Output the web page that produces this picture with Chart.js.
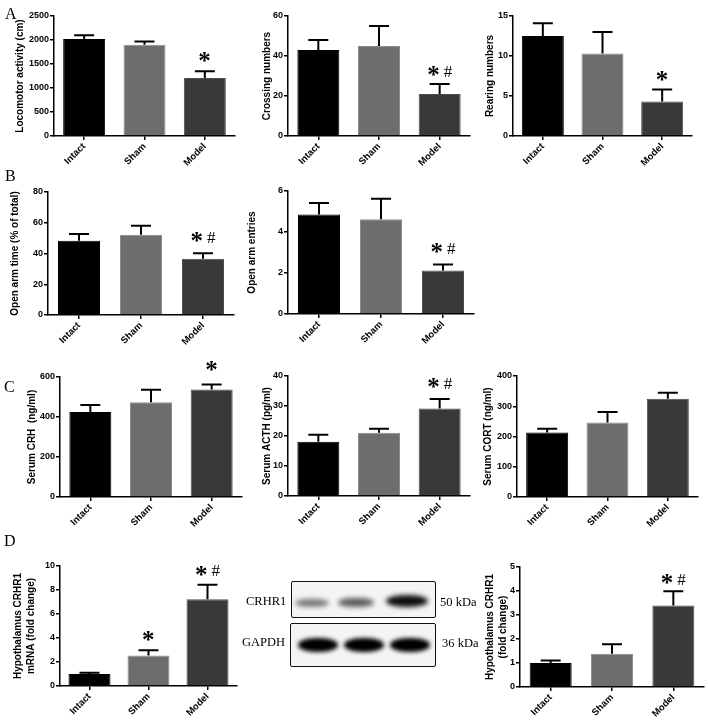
<!DOCTYPE html>
<html><head><meta charset="utf-8">
<script src="https://cdn.jsdelivr.net/npm/chart.js@4/dist/chart.umd.min.js"></script>
<style>
html,body{margin:0;padding:0;background:#fff}
body{width:708px;height:720px;position:relative;overflow:hidden}
canvas.cv{position:absolute}
.lt{position:absolute;font-family:"Liberation Serif","Times New Roman",serif;color:#000;white-space:nowrap;line-height:1}
.box{position:absolute;border:1.5px solid #111;border-radius:2px;background:#f4f4f4;box-sizing:border-box;overflow:hidden}
.band{position:absolute;border-radius:45%/50%}
</style></head><body>
<script>
// ---------- data ----------
const categories = ['Intact', 'Sham', 'Model'];
// A
const locomotorMean = [2020, 1900, 1210];
const locomotorErr  = [80, 70, 140];
const locomotorMarks = ['', '', '*'];
const locomotorTicks = [0, 500, 1000, 1500, 2000, 2500];
const crossingMean = [43, 45, 21];
const crossingErr  = [5, 10, 5];
const crossingMarks = ['', '', '*#'];
const crossingTicks = [0, 20, 40, 60];
const rearingMean = [12.5, 10.3, 4.3];
const rearingErr  = [1.6, 2.7, 1.5];
const rearingMarks = ['', '', '*'];
const rearingTicks = [0, 5, 10, 15];
// B
const openTimeMean = [48.3, 52.2, 36.6];
const openTimeErr  = [4.4, 5.9, 3.6];
const openTimeMarks = ['', '', '*#'];
const openTimeTicks = [0, 20, 40, 60, 80];
const openEntryMean = [4.85, 4.62, 2.12];
const openEntryErr  = [0.57, 1.0, 0.3];
const openEntryMarks = ['', '', '*#'];
const openEntryTicks = [0, 2, 4, 6];
// C
const crhMean = [425, 474, 537];
const crhErr  = [35, 62, 25];
const crhMarks = ['', '', '*'];
const crhTicks = [0, 200, 400, 600];
const acthMean = [18.1, 21.1, 29.2];
const acthErr  = [2.3, 1.3, 3.1];
const acthMarks = ['', '', '*#'];
const acthTicks = [0, 10, 20, 30, 40];
const cortMean = [213, 246, 325];
const cortErr  = [13, 35, 20];
const cortMarks = ['', '', ''];
const cortTicks = [0, 100, 200, 300, 400];
// D
const mrnaMean = [1.0, 2.55, 7.22];
const mrnaErr  = [0.1, 0.42, 1.22];
const mrnaMarks = ['', '*', '*#'];
const mrnaTicks = [0, 2, 4, 6, 8, 10];
const proteinMean = [1.0, 1.39, 3.40];
const proteinErr  = [0.1, 0.39, 0.59];
const proteinMarks = ['', '', '*#'];
const proteinTicks = [0, 1, 2, 3, 4, 5];
// western blot band intensities (relative darkness per lane)
const blotCRHR1 = [0.5, 0.62, 0.95];
const blotGAPDH = [1.0, 1.0, 1.0];

// ---------- styles / layout ----------
const barColors = ['#000000', '#6d6d6d', '#393939'];
const barBorders = ['#000000', '#8c8c8c', '#4e4e4e'];
const panels = [
  {title:'Locomotor activity (cm)', mean:locomotorMean, err:locomotorErr, marks:locomotorMarks, ticks:locomotorTicks, L:54, R:235, T:16, Z:136, tcx:20, gap:14},
  {title:'Crossing numbers', mean:crossingMean, err:crossingErr, marks:crossingMarks, ticks:crossingTicks, L:288, R:470, T:16, Z:136, tcx:267, gap:13},
  {title:'Rearing numbers', mean:rearingMean, err:rearingErr, marks:rearingMarks, ticks:rearingTicks, L:513, R:692, T:16, Z:136, tcx:490, gap:14},
  {title:'Open arm time (% of total)', mean:openTimeMean, err:openTimeErr, marks:openTimeMarks, ticks:openTimeTicks, L:48, R:234, T:192, Z:315, tcx:15, gap:16},
  {title:'Open arm entries', mean:openEntryMean, err:openEntryErr, marks:openEntryMarks, ticks:openEntryTicks, L:288, R:474, T:191, Z:314, tcx:252, gap:16},
  {title:'Serum CRH  (ng/ml)', mean:crhMean, err:crhErr, marks:crhMarks, ticks:crhTicks, L:60, R:242, T:377, Z:497, tcx:32, gap:19},
  {title:'Serum ACTH (pg/ml)', mean:acthMean, err:acthErr, marks:acthMarks, ticks:acthTicks, L:288, R:470, T:376, Z:496, tcx:267, gap:16},
  {title:'Serum CORT (ng/ml)', mean:cortMean, err:cortErr, marks:cortMarks, ticks:cortTicks, L:517, R:698, T:376, Z:497, tcx:488, gap:16},
  {title:['Hypothalamus CRHR1','mRNA (fold change)'], mean:mrnaMean, err:mrnaErr, marks:mrnaMarks, ticks:mrnaTicks, L:60, R:237, T:566, Z:686, tcx:18, gap:14},
  {title:['Hypothalamus CRHR1','(fold change)'], mean:proteinMean, err:proteinErr, marks:proteinMarks, ticks:proteinTicks, L:520, R:704, T:567, Z:687, tcx:490, gap:12}
];

const FONT = '"Liberation Sans", Arial, sans-serif';

function drawCentered(ctx, text, font, cx, cy) {
  ctx.font = font;
  ctx.textAlign = 'left';
  ctx.textBaseline = 'alphabetic';
  const m = ctx.measureText(text);
  const x = cx - (m.actualBoundingBoxRight - m.actualBoundingBoxLeft) / 2;
  const y = cy + (m.actualBoundingBoxAscent - m.actualBoundingBoxDescent) / 2;
  ctx.fillText(text, x, y);
}

const errPlugin = {
  id: 'errbars',
  afterDatasetsDraw(chart) {
    const ctx = chart.ctx;
    const ds = chart.config.data.datasets[0];
    const meta = chart.getDatasetMeta(0);
    const ys = chart.scales.y;
    const gap = chart.config.options.markGap || 14;
    ctx.save();
    ctx.strokeStyle = '#000';
    ctx.fillStyle = '#000';
    ctx.lineWidth = 2;
    meta.data.forEach((bar, i) => {
      const v = ds.data[i], e = ds.errors[i];
      const top = ys.getPixelForValue(v + e);
      const x = bar.x;
      const cap = 10;
      ctx.beginPath();
      ctx.moveTo(x, bar.y);
      ctx.lineTo(x, top);
      ctx.moveTo(x - cap, top);
      ctx.lineTo(x + cap, top);
      ctx.stroke();
      const mk = ds.marks[i];
      if (mk) {
        const cy = top - gap;
        if (mk === '*') {
          drawCentered(ctx, '*', 'bold 25px "Liberation Serif"', x, cy);
        } else {
          drawCentered(ctx, '*', 'bold 25px "Liberation Serif"', x - 6, cy);
          drawCentered(ctx, '#', '17px "Liberation Serif"', x + 8.5, cy);
        }
      }
    });
    ctx.restore();
  }
};

panels.forEach(p => {
  const multi = Array.isArray(p.title);
  const tsize = 10;
  const lh = multi ? 13.5 : tsize * 1.2;
  const cLeft = Math.round(p.tcx - lh / 2);
  const padTop = 32;
  const cTop = Math.round(p.T) - padTop;
  const xAxisH = 45;
  const cW = Math.round(p.R) - cLeft + 10;
  const cH = Math.round(p.Z) - cTop + xAxisH;
  const yW = Math.round(p.L) - cLeft;
  const catW = (p.R - p.L) / 3;
  const cv = document.createElement('canvas');
  cv.className = 'cv';
  cv.width = cW; cv.height = cH;
  cv.style.left = cLeft + 'px'; cv.style.top = cTop + 'px';
  cv.style.width = cW + 'px'; cv.style.height = cH + 'px';
  document.body.appendChild(cv);
  const tickArr = p.ticks;
  new Chart(cv, {
    type: 'bar',
    data: {
      labels: categories,
      datasets: [{
        data: p.mean,
        errors: p.err,
        marks: p.marks,
        backgroundColor: barColors,
        borderColor: barBorders,
        borderWidth: 1,
        barPercentage: 42 / catW,
        categoryPercentage: 1
      }]
    },
    options: {
      responsive: false,
      animation: false,
      devicePixelRatio: 1,
      markGap: p.gap,
      layout: {padding: {left: 0, top: padTop, right: 10, bottom: 0}},
      plugins: {legend: {display: false}, tooltip: {enabled: false}, title: {display: false}},
      scales: {
        x: {
          offset: true,
          grid: {display: true, drawOnChartArea: false, drawTicks: true, tickLength: 4, offset: false, color: '#000', lineWidth: 1.5},
          border: {display: true, color: '#000', width: 1.5},
          ticks: {color: '#000', font: {family: FONT, size: 9.5, weight: 'bold'}, minRotation: 45, maxRotation: 45, autoSkip: false, padding: 1},
          afterFit: s => { s.height = xAxisH; }
        },
        y: {
          min: tickArr[0],
          max: tickArr[tickArr.length - 1],
          afterBuildTicks: s => { s.ticks = tickArr.map(v => ({value: v})); },
          grid: {display: true, drawOnChartArea: false, drawTicks: true, tickLength: 4, color: '#000', lineWidth: 1.5},
          border: {display: true, color: '#000', width: 1.5},
          ticks: {color: '#000', font: {family: FONT, size: 9, weight: 'bold'}, padding: 1, callback: v => String(v)},
          title: {display: true, text: p.title, color: '#000', padding: 0,
                  font: {family: FONT, size: tsize, weight: 'bold', lineHeight: multi ? 1.35 : 1.2}},
          afterFit: s => { s.width = yW; }
        }
      }
    },
    plugins: [errPlugin]
  });
});

// ---------- panel letters ----------
const letters = [['A', 5, 6], ['B', 5, 168], ['C', 4, 379], ['D', 4, 533]];
letters.forEach(([t, x, y]) => {
  const d = document.createElement('div');
  d.className = 'lt'; d.textContent = t;
  d.style.left = x + 'px'; d.style.top = y + 'px'; d.style.fontSize = '16px';
  document.body.appendChild(d);
});

// ---------- western blot ----------
function addBox(l, t, w, h) {
  const b = document.createElement('div');
  b.className = 'box';
  b.style.left = l + 'px'; b.style.top = t + 'px';
  b.style.width = w + 'px'; b.style.height = h + 'px';
  document.body.appendChild(b);
  return b;
}
function addBand(box, cx, cy, w, h, a, blur) {
  const d = document.createElement('div');
  d.className = 'band';
  d.style.left = (cx - w / 2) + 'px'; d.style.top = (cy - h / 2) + 'px';
  d.style.width = w + 'px'; d.style.height = h + 'px';
  d.style.background = `rgba(0,0,0,${a})`;
  d.style.filter = `blur(${blur}px)`;
  box.appendChild(d);
}
const top1 = addBox(291, 581, 145, 37);
const laneX1 = [20, 64, 115], laneY1 = [20.5, 20, 18.5];
const laneW1 = [34, 36, 42], laneH1 = [8, 9, 12];
blotCRHR1.forEach((a, i) => addBand(top1, laneX1[i], laneY1[i], laneW1[i], laneH1[i], a, 2.5));
const bot1 = addBox(290, 623, 146, 44);
const laneX2 = [27, 73, 119];
blotGAPDH.forEach((a, i) => addBand(bot1, laneX2[i], 21, 40, 14, a, 2));

const blotLabels = [['CRHR1', 246, 595], ['GAPDH', 242, 636], ['50 kDa', 440, 596], ['36 kDa', 442, 637]];
blotLabels.forEach(([t, x, y]) => {
  const d = document.createElement('div');
  d.className = 'lt'; d.textContent = t;
  d.style.left = x + 'px'; d.style.top = y + 'px'; d.style.fontSize = '12.5px';
  document.body.appendChild(d);
});
</script>
</body></html>
